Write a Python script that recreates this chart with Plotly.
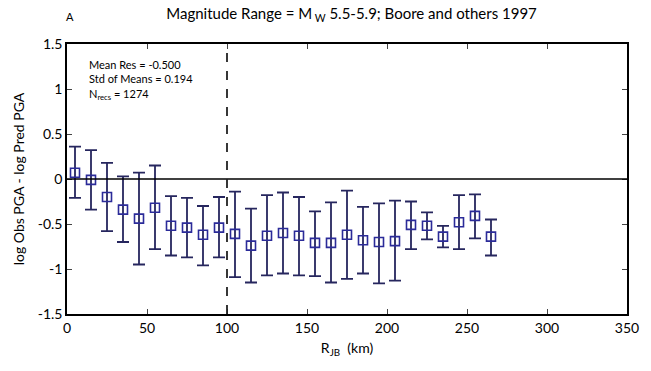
import plotly.graph_objects as go

distance = [5, 15, 25, 35, 45, 55, 65, 75, 85, 95, 105, 115, 125, 135, 145,
            155, 165, 175, 185, 195, 205, 215, 225, 235, 245, 255, 265]
mean_res = [0.07, -0.01, -0.20, -0.34, -0.44, -0.32, -0.52, -0.54, -0.62, -0.54,
            -0.61, -0.74, -0.63, -0.60, -0.63, -0.71, -0.71, -0.62, -0.68, -0.70,
            -0.69, -0.51, -0.52, -0.64, -0.48, -0.41, -0.64]
err_top = [0.36, 0.32, 0.18, 0.03, 0.07, 0.15, -0.19, -0.21, -0.30, -0.20,
           -0.14, -0.33, -0.18, -0.15, -0.20, -0.36, -0.26, -0.13, -0.31, -0.27,
           -0.24, -0.25, -0.37, -0.52, -0.18, -0.17, -0.45]
err_bot = [-0.21, -0.34, -0.58, -0.70, -0.95, -0.78, -0.85, -0.87, -0.96, -0.87,
           -1.09, -1.15, -1.07, -1.05, -1.07, -1.08, -1.15, -1.11, -1.05, -1.16,
           -1.13, -0.78, -0.67, -0.76, -0.78, -0.66, -0.85]

x_ticks = [0, 50, 100, 150, 200, 250, 300, 350]
y_ticks = [-1.5, -1, -0.5, 0, 0.5, 1, 1.5]
y_tick_text = ["-1.5", "-1", "-0.5", "0", "0.5", "1", "1.5"]

plus = [t - m for t, m in zip(err_top, mean_res)]
minus = [m - b for m, b in zip(mean_res, err_bot)]

font = "Lato, Open Sans, sans-serif"

fig = go.Figure()
fig.add_trace(go.Scatter(
    x=distance, y=mean_res, mode="markers",
    marker=dict(symbol="square-open", size=9, color="#2b2b99", line=dict(width=1.6)),
    error_y=dict(type="data", symmetric=False, array=plus, arrayminus=minus,
                 color="#26265e", thickness=1.8, width=6),
    showlegend=False,
))

fig.add_shape(type="line", xref="x", yref="y", x0=0, x1=350, y0=0, y1=0,
              line=dict(color="black", width=1.5))
fig.add_shape(type="line", xref="x", yref="y", x0=100, x1=100, y0=-1.5, y1=1.5,
              line=dict(color="#222222", width=1.8, dash="dash"))

fig.add_annotation(x=0.035, y=0.955, xref="paper", yref="paper", xanchor="left", yanchor="top",
                   align="left", showarrow=False,
                   text="Mean Res = -0.500<br>Std of Means = 0.194<br>N<sub>recs</sub> = 1274",
                   font=dict(family=font, size=11, color="black"))
fig.add_annotation(x=0.005, y=1.1, xref="paper", yref="paper", xanchor="center", yanchor="middle",
                   showarrow=False, text="A",
                   font=dict(family=font, size=11, color="black"))

fig.update_layout(
    width=651, height=371,
    margin=dict(l=67, r=12, t=44, b=57),
    paper_bgcolor="white", plot_bgcolor="white",
    title=dict(text="Magnitude Range = M<sub> W</sub> 5.5-5.9; Boore and others 1997",
               x=0.54, xanchor="center", y=0.962, yanchor="middle",
               font=dict(family=font, size=15, color="black")),
    font=dict(family=font, size=14, color="black"),
)
fig.update_xaxes(range=[0, 350], tickvals=x_ticks, ticks="inside", ticklen=5,
                 showline=True, linecolor="black", linewidth=1.5, mirror="allticks",
                 showgrid=False, zeroline=False,
                 title=dict(text="R<sub>JB</sub>  (km)", font=dict(size=14), standoff=9),
                 tickfont=dict(size=14))
fig.update_yaxes(range=[-1.5, 1.5], tickvals=y_ticks, ticktext=y_tick_text, ticks="inside",
                 ticklen=5, showline=True, linecolor="black", linewidth=1.5, mirror="allticks",
                 showgrid=False, zeroline=False,
                 title=dict(text="log Obs PGA - log Pred PGA", font=dict(size=14), standoff=10),
                 tickfont=dict(size=14))

fig.write_html("out.html")
